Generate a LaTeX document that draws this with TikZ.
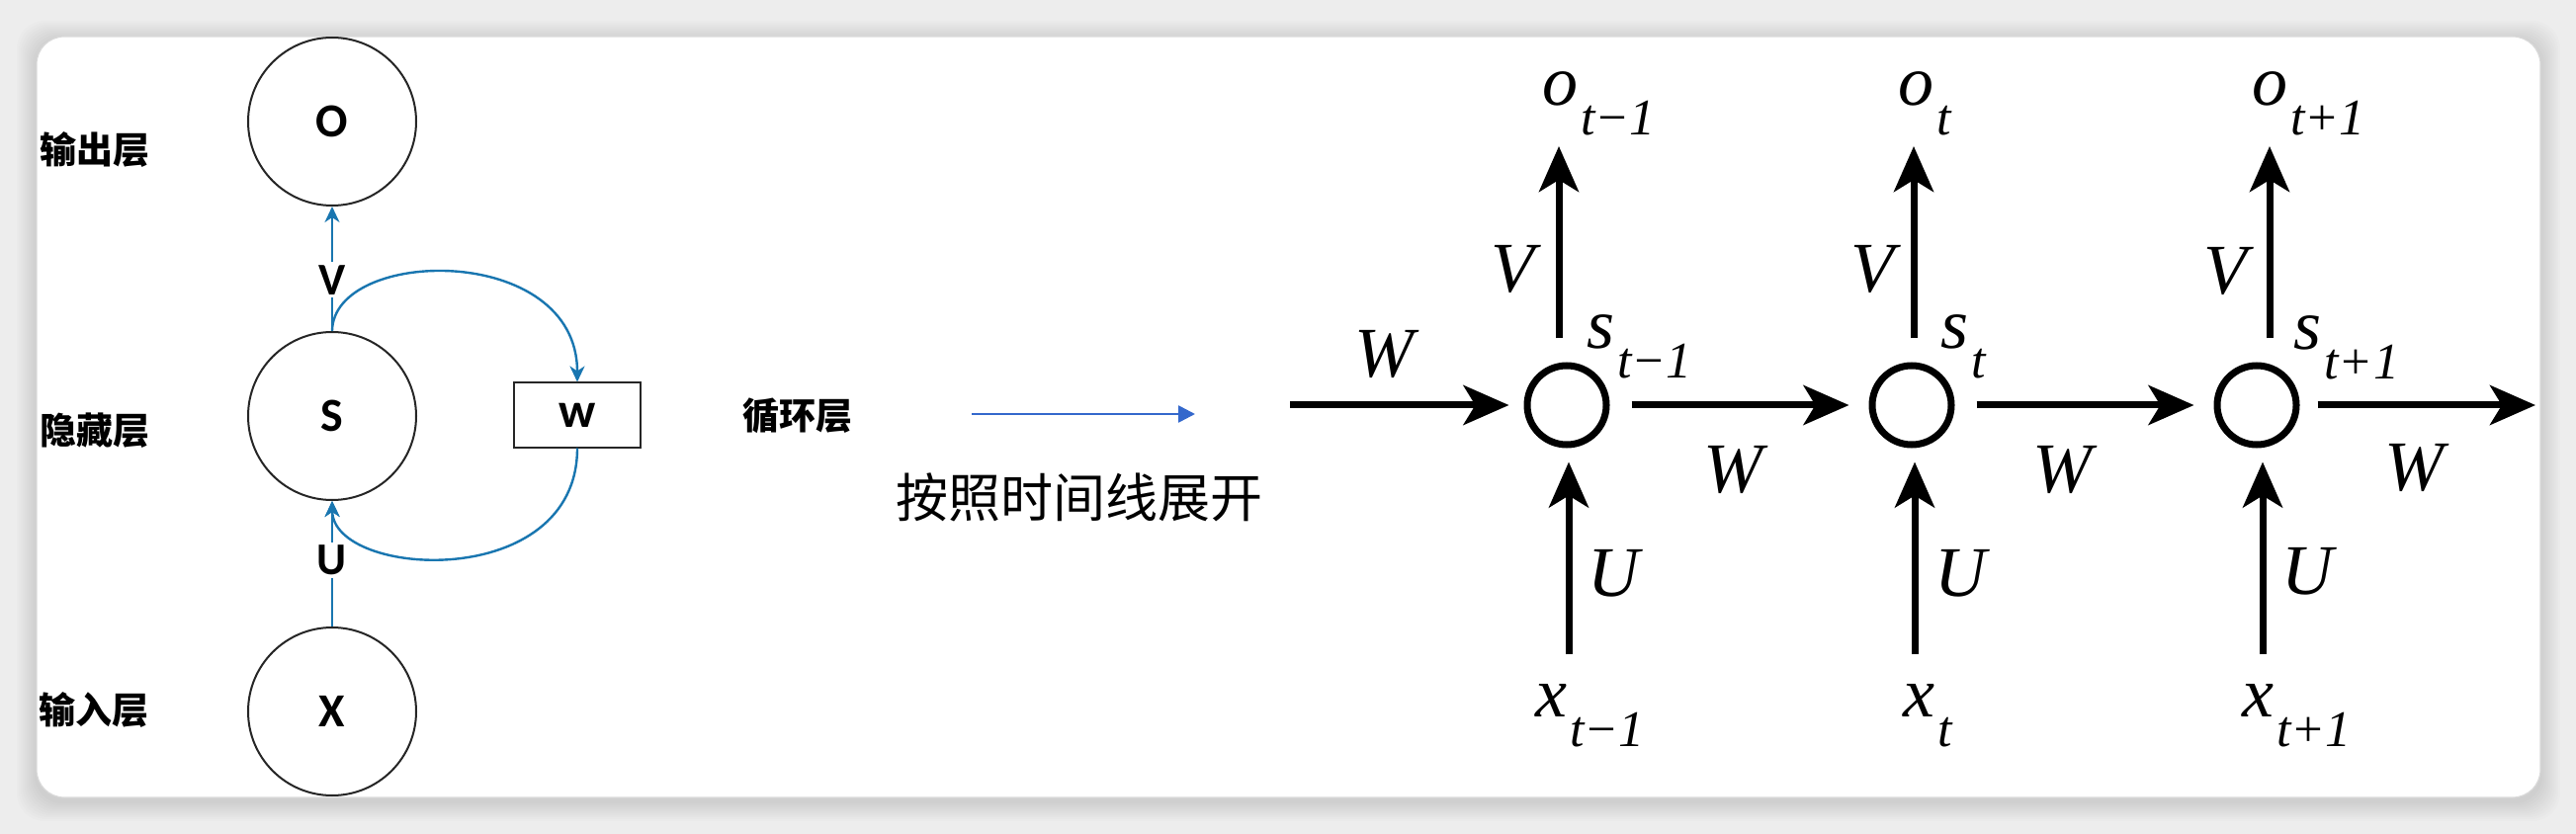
\documentclass[tikz,border=0pt]{standalone}
\usepackage{fontspec}
\setmainfont{Liberation Serif}
\newfontfamily\cjk{Noto Sans CJK SC}
\newfontfamily\calib{Carlito}
\usetikzlibrary{arrows.meta}
\definecolor{loopblue}{RGB}{25,118,176}
\definecolor{navblue}{RGB}{52,104,204}
\definecolor{bggray}{RGB}{237,237,237}
\newcommand{\mainsz}{\fontsize{36}{38}\selectfont\itshape}
\newcommand{\subsz}{\fontsize{26}{28}\selectfont\itshape}
\newcommand{\lbl}[2]{{\mainsz #1}\hspace{1.5pt}\raisebox{-15pt}{\subsz #2}}
\begin{document}
\begin{tikzpicture}[x=0.5pt,y=-0.5pt,
  layerlabel/.style={font=\cjk\bfseries\fontsize{18.5}{20}\selectfont, inner sep=0pt},
  unit/.style={circle, draw=black!85, line width=1pt, minimum size=85pt, inner sep=0pt,
    font=\calib\bfseries\fontsize{24}{26}\selectfont},
  wbox/.style={draw=black!85, line width=1pt, minimum width=64pt, minimum height=32.5pt,
    inner sep=0pt, font=\calib\bfseries\fontsize{25}{26}\selectfont},
  bluearrow/.style={draw=loopblue, line width=1.2pt, -{Stealth[length=8pt,width=7.5pt,inset=2.5pt]}},
  wlabel/.style={font=\calib\bfseries\fontsize{23}{24}\selectfont, fill=white, inner sep=1.5pt},
  cell/.style={circle, draw=black, line width=3.5pt, minimum size=40pt, inner sep=0pt},
  bigarrow/.style={draw=black, line width=3.5pt, -{Stealth[length=23pt,width=20pt,inset=6pt]}},
  mathlbl/.style={font=\mainsz, inner sep=0pt},
  seqlbl/.style={anchor=base west, inner sep=0pt}]
\useasboundingbox (0,0) rectangle (2606,844);
% background and card
\fill[bggray] (0,0) rectangle (2606,844);
\foreach \i in {1,...,10} {
  \fill[black, opacity=0.012, rounded corners=14pt] (37-2*\i,37-2*\i+4) rectangle (2570+2*\i,807+2*\i+4);
}
\fill[white, rounded corners=14pt, draw=black!15, line width=0.6pt] (37,37) rectangle (2570,807);

% ---------- left: folded RNN ----------
\node[unit] (O) at (336,123) {O};
\node[unit] (S) at (336,421) {S};
\node[unit] (X) at (336,720) {X};
\node[wbox] (Wb) at (584,420) {w};
\node[layerlabel] (lo) at (96,151) {输出层};
\node[layerlabel] (lh) at (96,436) {隐藏层};
\node[layerlabel] (li) at (95,718) {输入层};

\draw[bluearrow] (S.north) -- node[wlabel,pos=0.41] {V} (O.south);
\draw[bluearrow] (X.north) -- node[wlabel,pos=0.53] {U} (S.south);
\draw[bluearrow] (S.north) .. controls (337,250) and (584,245) .. (Wb.north);
\draw[bluearrow] (Wb.south) .. controls (584,600) and (337,585) .. (S.south);

% ---------- middle ----------
\node[layerlabel] (lr) at (807,421) {循环层};
\coordinate (a0) at (983,419);
\coordinate (a1) at (1209,419);
\draw[draw=navblue, line width=1.3pt, -{Triangle[length=8.5pt,width=8.5pt]}] (a0) -- (a1);
\node[font=\cjk\fontsize{26.5}{28}\selectfont, inner sep=0pt] (unfold) at (1092,503) {按照时间线展开};

% ---------- right: unfolded RNN ----------
\node[cell] (c1) at (1585,410) {};
\node[cell] (c2) at (1934,410) {};
\node[cell] (c3) at (2283,410) {};

\coordinate (win) at (1305,410);
\coordinate (wout) at (2565,410);
\coordinate (t1) at (1577,148);
\coordinate (t2) at (1936,148);
\coordinate (t3) at (2296,148);
\coordinate (b1) at (1587,662);
\coordinate (b2) at (1937,662);
\coordinate (b3) at (2289,662);

\draw[bigarrow, shorten >=7.5pt] (win) -- (c1.west);
\draw[bigarrow, shorten <=11pt, shorten >=10pt] (c1.east) -- (c2.west);
\draw[bigarrow, shorten <=11pt, shorten >=10pt] (c2.east) -- (c3.west);
\draw[bigarrow, shorten <=9pt] (c3.east) -- (wout);

\draw[bigarrow, shorten <=12pt] (c1.north -| t1) -- (t1);
\draw[bigarrow, shorten <=12pt] (c2.north -| t2) -- (t2);
\draw[bigarrow, shorten <=12pt] (c3.north -| t3) -- (t3);
\draw[bigarrow, shorten >=7pt] (b1) -- (c1.south -| b1);
\draw[bigarrow, shorten >=7pt] (b2) -- (c2.south -| b2);
\draw[bigarrow, shorten >=7pt] (b3) -- (c3.south -| b3);

% weight labels
\node[mathlbl] (w0) at (1400,358) {W};
\node[mathlbl] (w1) at (1753,475) {W};
\node[mathlbl] (w2) at (2086,475) {W};
\node[mathlbl] (w3) at (2442,473) {W};
\node[mathlbl] (v1) at (1530,272) {V};
\node[mathlbl] (v2) at (1894,272) {V};
\node[mathlbl] (v3) at (2251,274) {V};
\node[mathlbl] (u1) at (1632,580) {U};
\node[mathlbl] (u2) at (1983,580) {U};
\node[mathlbl] (u3) at (2334,578) {U};

% sequence labels
\node[seqlbl] (o1) at (1560,107) {\lbl{o}{t−1}};
\node[seqlbl] (o2) at (1920,107) {\lbl{o}{t}};
\node[seqlbl] (o3) at (2278,107) {\lbl{o}{t+1}};
\node[seqlbl] (s1) at (1605,353) {\lbl{s}{t−1}};
\node[seqlbl] (s2) at (1963,353) {\lbl{s}{t}};
\node[seqlbl] (s3) at (2320,354) {\lbl{s}{t+1}};
\node[seqlbl] (x1) at (1553,725) {\lbl{x}{t−1}};
\node[seqlbl] (x2) at (1925,725) {\lbl{x}{t}};
\node[seqlbl] (x3) at (2268,725) {\lbl{x}{t+1}};
\end{tikzpicture}
\end{document}
